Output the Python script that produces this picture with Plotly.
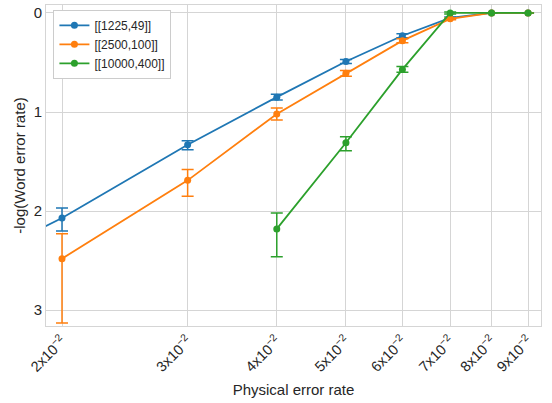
import plotly.graph_objects as go

# Physical error rates (x) and -log(word error rate) per code
x_1225 = [0.015, 0.02, 0.03, 0.04, 0.05, 0.06, 0.07, 0.08, 0.09]
y_1225 = [2.52, 2.07, 1.33, 0.85, 0.49, 0.23, 0.05, 0.0, 0.0]
up_1225 = [0.14, 0.13, 0.05, 0.03, 0.02, 0.02, 0.01, 0.0, 0.0]
dn_1225 = [0.11, 0.10, 0.04, 0.03, 0.02, 0.02, 0.01, 0.0, 0.0]

x_2500 = [0.02, 0.03, 0.04, 0.05, 0.06, 0.07, 0.08, 0.09]
y_2500 = [2.48, 1.69, 1.02, 0.61, 0.28, 0.06, 0.0, 0.0]
up_2500 = [0.65, 0.16, 0.06, 0.03, 0.02, 0.01, 0.0, 0.0]
dn_2500 = [0.25, 0.11, 0.06, 0.03, 0.02, 0.01, 0.0, 0.0]

x_10000 = [0.04, 0.05, 0.06, 0.07, 0.08, 0.09]
y_10000 = [2.18, 1.31, 0.57, 0.0, 0.0, 0.0]
up_10000 = [0.28, 0.08, 0.03, 0.01, 0.0, 0.0]
dn_10000 = [0.16, 0.06, 0.03, 0.01, 0.0, 0.0]

labels = ["[[1225,49]]", "[[2500,100]]", "[[10000,400]]"]
colors = ["#1f77b4", "#ff7f0e", "#2ca02c"]

tick_vals = [0.02, 0.03, 0.04, 0.05, 0.06, 0.07, 0.08, 0.09]
tick_text = [f"{k}x10<sup>\u22122</sup>" for k in range(2, 10)]

fig = go.Figure()
series = [
    (x_1225, y_1225, up_1225, dn_1225),
    (x_2500, y_2500, up_2500, dn_2500),
    (x_10000, y_10000, up_10000, dn_10000),
]
for (xs, ys, up, dn), name, col in zip(series, labels, colors):
    fig.add_trace(go.Scatter(
        x=xs, y=ys, name=name, mode="lines+markers",
        line=dict(color=col, width=1.8),
        marker=dict(color=col, size=7),
        error_y=dict(type="data", symmetric=False, array=up, arrayminus=dn,
                     color=col, thickness=1.5, width=6),
    ))

grid = "#d5d5d5"
fig.update_layout(
    width=552, height=403,
    margin=dict(l=46, r=11, t=5, b=77),
    paper_bgcolor="white", plot_bgcolor="white",
    font=dict(family="Liberation Sans, Arial, sans-serif", color="#262626"),
    showlegend=True,
    legend=dict(x=0.015, y=0.985, xanchor="left", yanchor="top",
                bgcolor="white", bordercolor="#cccccc", borderwidth=1,
                font=dict(size=12), tracegroupgap=0),
    xaxis=dict(
        type="log", range=[-1.7214, -1.0276],
        tickvals=tick_vals, ticktext=tick_text, tickangle=-45,
        tickfont=dict(size=14.5),
        showgrid=True, gridcolor=grid, gridwidth=1,
        showline=True, linecolor=grid, mirror=True, zeroline=False,
        title=dict(text="Physical error rate", font=dict(size=15), standoff=10),
    ),
    yaxis=dict(
        range=[3.16, -0.08], tickvals=[0, 1, 2, 3],
        tickfont=dict(size=15),
        showgrid=True, gridcolor=grid, gridwidth=1,
        showline=True, linecolor=grid, mirror=True, zeroline=False,
        title=dict(text="-log(Word error rate)", font=dict(size=15), standoff=4),
    ),
)

fig.write_html("out.html")
